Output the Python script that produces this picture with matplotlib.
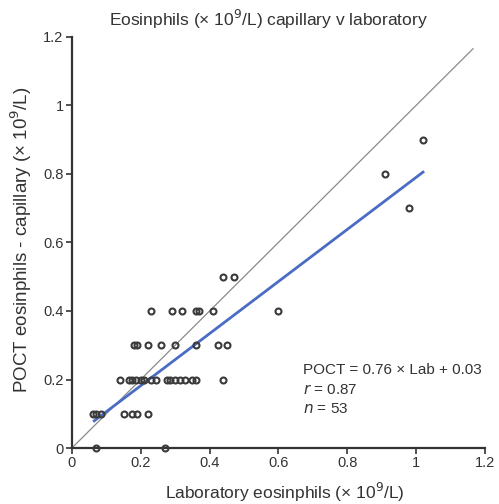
import matplotlib
matplotlib.use('Agg')
import matplotlib.pyplot as plt

plt.rcParams['font.family'] = ['Liberation Sans', 'DejaVu Sans']

# data (lab, POCT) in x10^9/L
lab = [0.44, 0.47,
       0.23, 0.29, 0.32, 0.36, 0.37, 0.41, 0.60,
       0.18, 0.19, 0.22, 0.26, 0.30, 0.36, 0.425, 0.45,
       0.14, 0.165, 0.175, 0.185, 0.20, 0.21, 0.23, 0.245, 0.275, 0.285,
       0.30, 0.315, 0.33, 0.35, 0.36, 0.44,
       0.06, 0.07, 0.085, 0.15, 0.175, 0.19, 0.22,
       0.07, 0.27,
       0.91, 1.02, 0.98]
poct = [0.5, 0.5,
        0.4, 0.4, 0.4, 0.4, 0.4, 0.4, 0.4,
        0.3, 0.3, 0.3, 0.3, 0.3, 0.3, 0.3, 0.3,
        0.2, 0.2, 0.2, 0.2, 0.2, 0.2, 0.2, 0.2, 0.2, 0.2,
        0.2, 0.2, 0.2, 0.2, 0.2, 0.2,
        0.1, 0.1, 0.1, 0.1, 0.1, 0.1, 0.1,
        0.0, 0.0,
        0.8, 0.9, 0.7]
slope, intercept = 0.76, 0.03
fit_x = [0.065, 1.02]
ident = [0.0, 1.165]
ticks = [0, 0.2, 0.4, 0.6, 0.8, 1, 1.2]
tick_labels = ['0', '0.2', '0.4', '0.6', '0.8', '1', '1.2']

TXT = '#333333'

fig = plt.figure(figsize=(4.99, 5.04), dpi=100)
ax = fig.add_axes([0.144, 0.111, 0.828, 0.816])

ax.plot(ident, ident, color='#8a8a8a', lw=0.9, zorder=2)
ax.plot(fit_x, [slope * x + intercept for x in fit_x], color='#4a6cc4', lw=2.0, zorder=3)
ax.plot(lab, poct, 'o', ms=4.3, mfc='none', mec='#3a3a3a', mew=1.5, zorder=4, clip_on=False)

ax.set_xlim(0, 1.2)
ax.set_ylim(0, 1.2)
ax.set_xticks(ticks)
ax.set_xticklabels(tick_labels)
ax.set_yticks(ticks)
ax.set_yticklabels(tick_labels)
for s in ['top', 'right']:
    ax.spines[s].set_visible(False)
for s in ['left', 'bottom']:
    ax.spines[s].set_linewidth(1.6)
    ax.spines[s].set_color(TXT)
ax.tick_params(direction='out', length=4, width=1.2, color=TXT,
               labelsize=10.5, labelcolor=TXT, pad=2)

ax.set_xlabel('Laboratory eosinphils (\u00d7 10$^9$/L)', fontsize=12.5, color=TXT, va='top')
ax.xaxis.set_label_coords(0.516, -0.08)
ax.set_ylabel('POCT eosinphils - capillary (\u00d7 10$^9$/L)', fontsize=13.5, color=TXT)
ax.yaxis.set_label_coords(-0.092, 0.506)
ax.set_title('Eosinphils (\u00d7 10$^9$/L) capillary v laboratory', fontsize=12.5, color=TXT,
             x=0.475, pad=8)

ax.text(0.67, 0.228, 'POCT = 0.76 \u00d7 Lab + 0.03', fontsize=11, color=TXT, va='center')
ax.text(0.67, 0.17, '$r$ = 0.87', fontsize=11, color=TXT, va='center')
ax.text(0.67, 0.114, '$n$ = 53', fontsize=11, color=TXT, va='center')

fig.savefig('out.png', dpi=100)
